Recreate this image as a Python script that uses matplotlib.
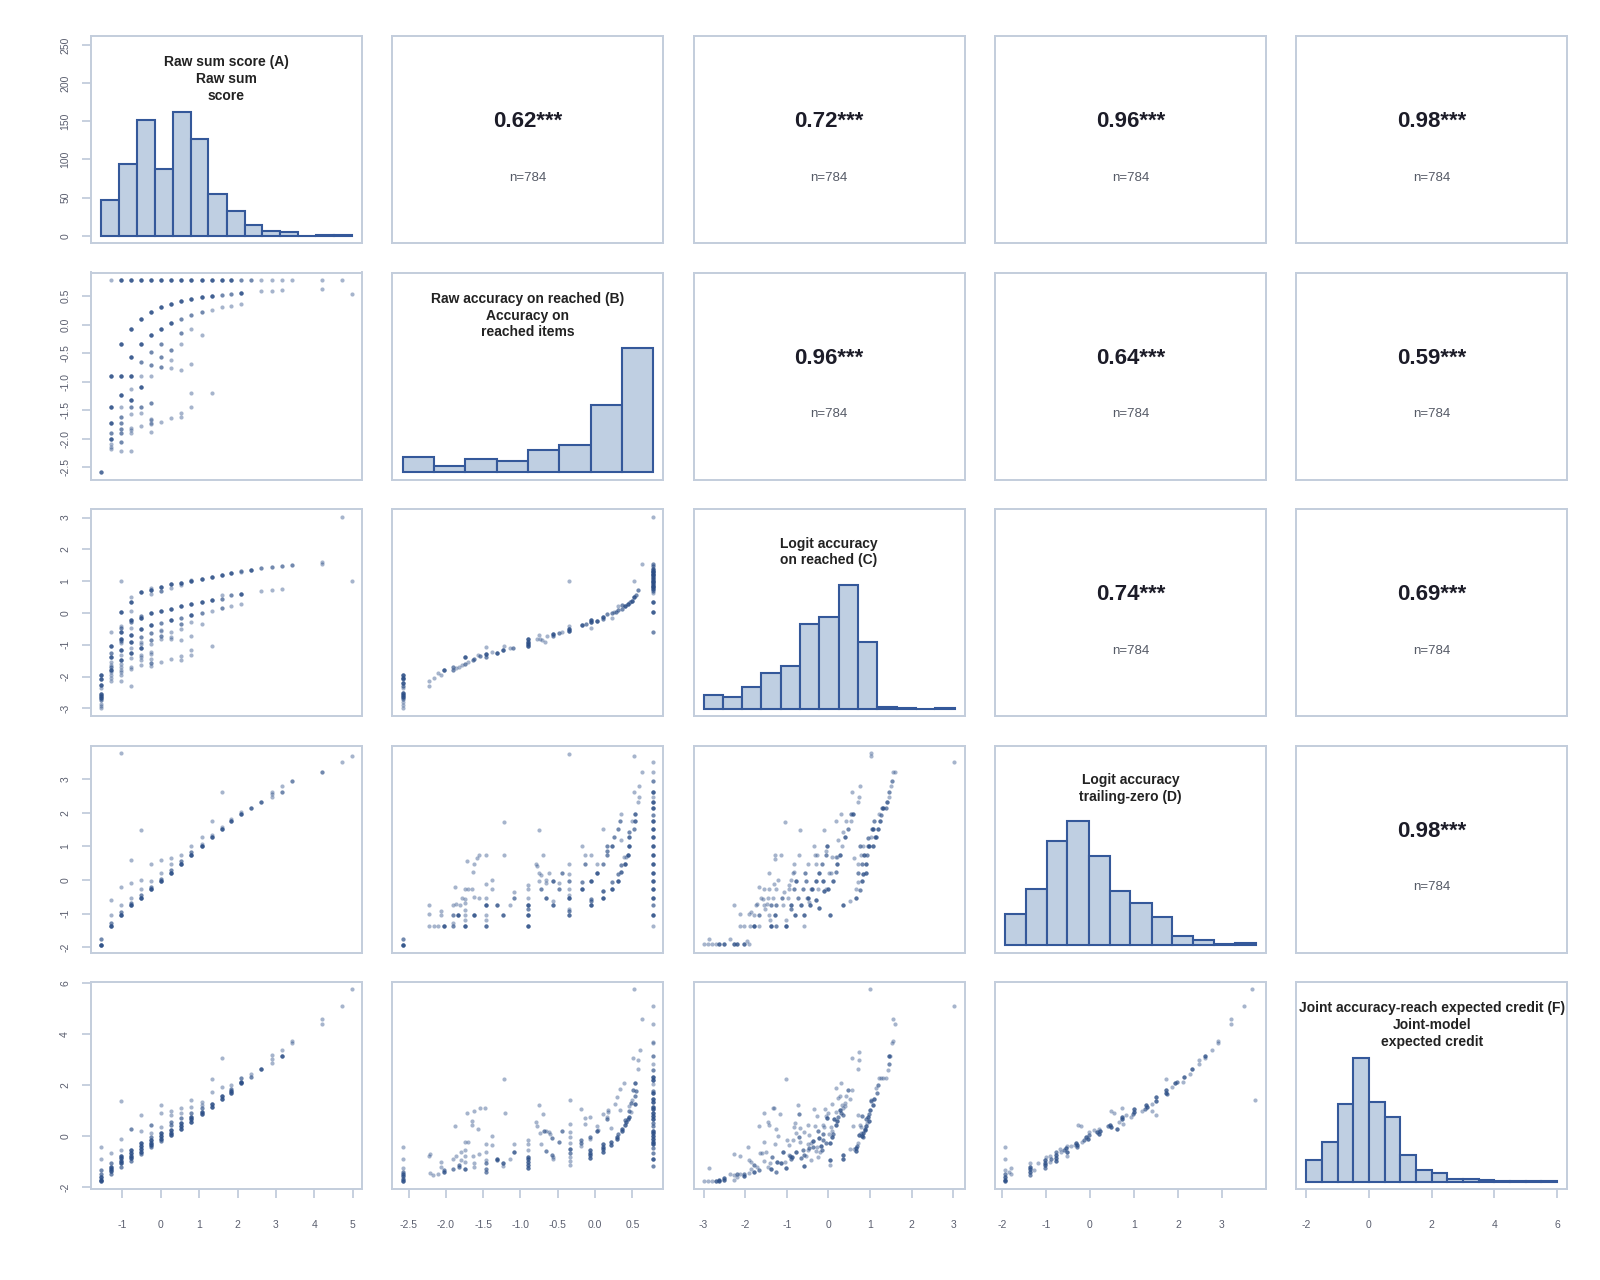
import numpy as np
import matplotlib.pyplot as plt

plt.rcParams['font.family'] = ['Liberation Sans', 'DejaVu Sans']
plt.rcParams['axes.unicode_minus'] = False

# ---- labels ---------------------------------------------------------------
titles = [
    "Raw sum score (A)\nRaw sum\nscore",
    "Raw accuracy on reached (B)\nAccuracy on\nreached items",
    "Logit accuracy\non reached (C)",
    "Logit accuracy\ntrailing-zero (D)",
    "Joint accuracy-reach expected credit (F)\nJoint-model\nexpected credit",
]
n_obs = 784

# correlations shown above the diagonal: (row, col) -> r
cors = {(0, 1): 0.62, (0, 2): 0.72, (0, 3): 0.96, (0, 4): 0.98,
        (1, 2): 0.96, (1, 3): 0.64, (1, 4): 0.59,
        (2, 3): 0.74, (2, 4): 0.69,
        (3, 4): 0.98}

# ---- histograms on the diagonal --------------------------------------------
hist_a_edges = [-1.56, -1.09, -0.63, -0.16, 0.31, 0.78, 1.24, 1.71, 2.18, 2.64, 3.11, 3.58, 4.04, 4.51, 4.98]
hist_a_counts = [47, 94, 152, 88, 162, 127, 55, 32, 14, 6, 5, 0, 1, 1]
hist_b_edges = [-2.58, -2.16, -1.74, -1.32, -0.90, -0.48, -0.06, 0.36, 0.78]
hist_b_counts = [42, 17, 36, 31, 61, 75, 184, 338]
hist_c_edges = [-3.00, -2.54, -2.07, -1.61, -1.14, -0.68, -0.22, 0.25, 0.71, 1.17, 1.64, 2.10, 2.57, 3.03]
hist_c_counts = [21, 18, 34, 57, 68, 134, 145, 196, 106, 3, 1, 0, 1]
hist_d_edges = [-1.93, -1.46, -0.98, -0.51, -0.03, 0.45, 0.92, 1.40, 1.87, 2.35, 2.82, 3.30, 3.77]
hist_d_counts = [44, 81, 150, 178, 128, 78, 60, 41, 13, 7, 1, 3]
hist_f_edges = [-2.0, -1.5, -1.0, -0.5, 0.0, 0.5, 1.0, 1.5, 2.0, 2.5, 3.0, 3.5, 4.0, 4.5, 5.0, 5.5, 6.0]
hist_f_counts = [37, 67, 132, 210, 135, 110, 45, 19, 15, 4, 4, 2, 1, 1, 1, 1]

# ---- scatter panels: (x, y, number of overlapping cases) -------------------
# panels against A (raw sum score): x value -> [(y, n), ...]
ba_cols = {
    -1.56: [(-2.58, 3)],
    -1.30: [(0.78, 1), (-0.90, 4), (-1.45, 4), (-1.73, 4), (-1.90, 2), (-2.01, 4), (-2.09, 1), (-2.14, 1), (-2.19, 1)],
    -1.04: [(0.78, 4), (-0.34, 4), (-0.90, 4), (-1.23, 4), (-1.45, 1), (-1.62, 2), (-1.73, 2), (-1.83, 2), (-1.90, 2), (-2.06, 2), (-2.22, 1)],
    -0.78: [(0.78, 4), (-0.07, 4), (-0.57, 4), (-0.90, 4), (-1.13, 1), (-1.32, 4), (-1.45, 2), (-1.57, 1), (-1.81, 1), (-1.85, 1), (-1.90, 1), (-2.22, 1)],
    -0.51: [(0.78, 4), (0.10, 4), (-0.34, 4), (-0.66, 2), (-0.90, 1), (-1.09, 4), (-1.45, 2), (-1.55, 1), (-1.78, 1)],
    -0.25: [(0.78, 4), (0.22, 4), (-0.18, 4), (-0.48, 2), (-0.71, 2), (-0.90, 1), (-1.38, 2), (-1.65, 1), (-1.68, 1), (-1.72, 1), (-1.75, 1), (-1.88, 1)],
    0.01: [(0.78, 4), (0.30, 4), (-0.07, 4), (-0.34, 2), (-0.57, 2), (-0.75, 2), (-1.70, 1)],
    0.27: [(0.78, 4), (0.36, 4), (0.03, 4), (-0.44, 2), (-0.62, 1), (-0.77, 1), (-1.64, 1)],
    0.53: [(0.78, 4), (0.41, 4), (0.10, 2), (-0.14, 2), (-0.34, 1), (-0.79, 1), (-1.55, 1), (-1.62, 1)],
    0.79: [(0.78, 4), (0.44, 4), (0.17, 2), (-0.07, 1), (-0.69, 1), (-1.20, 1), (-1.45, 1)],
    1.06: [(0.78, 4), (0.48, 4), (0.22, 2), (-0.18, 1)],
    1.32: [(0.78, 4), (0.50, 4), (0.26, 1), (-1.20, 1)],
    1.58: [(0.78, 4), (0.52, 2), (0.30, 1)],
    1.84: [(0.78, 4), (0.54, 2), (0.33, 1)],
    2.10: [(0.78, 2), (0.55, 4), (0.36, 1)],
    2.36: [(0.78, 2)],
    2.62: [(0.78, 1), (0.58, 1)],
    2.89: [(0.78, 1), (0.59, 1)],
    3.15: [(0.78, 1), (0.60, 1)],
    3.41: [(0.78, 1)],
    4.19: [(0.78, 1), (0.63, 1)],
    4.72: [(0.78, 1)],
    4.98: [(0.53, 1)],
}

ca_cols = {
    -1.56: [(-1.95, 4), (-2.07, 4), (-2.26, 4), (-2.37, 1), (-2.55, 4), (-2.60, 4), (-2.67, 4), (-2.75, 2), (-2.87, 1), (-2.94, 1), (-3.00, 1)],
    -1.30: [(-0.61, 1), (-1.03, 4), (-1.26, 2), (-1.39, 4), (-1.55, 1), (-1.64, 1), (-1.69, 2), (-1.78, 4), (-1.85, 1), (-1.95, 1), (-2.05, 1), (-2.13, 1)],
    -1.04: [(1.01, 1), (0.02, 4), (-0.40, 1), (-0.46, 2), (-0.59, 4), (-0.81, 4), (-0.88, 2), (-0.94, 1), (-1.15, 4), (-1.31, 1), (-1.47, 4), (-1.61, 1), (-1.70, 1), (-1.78, 1), (-1.85, 1), (-1.94, 1), (-2.13, 1)],
    -0.78: [(0.50, 1), (0.34, 4), (0.06, 1), (-0.23, 4), (-0.27, 2), (-0.46, 1), (-0.68, 4), (-0.90, 4), (-1.09, 1), (-1.25, 4), (-1.41, 1), (-1.69, 1), (-1.76, 1), (-2.30, 1)],
    -0.51: [(0.67, 4), (-0.08, 2), (-0.15, 4), (-0.50, 4), (-0.75, 2), (-0.91, 1), (-0.96, 1), (-1.10, 4), (-1.32, 1), (-1.40, 1), (-1.47, 1), (-1.63, 1)],
    -0.25: [(0.79, 1), (0.71, 4), (0.61, 1), (-0.01, 4), (-0.39, 4), (-0.64, 2), (-0.84, 2), (-0.98, 1), (-1.23, 1), (-1.28, 1), (-1.45, 1), (-1.56, 2), (-1.68, 1)],
    0.01: [(0.82, 4), (0.69, 2), (0.07, 4), (-0.30, 2), (-0.52, 1), (-0.57, 1), (-0.71, 2), (-0.83, 1), (-1.54, 1)],
    0.27: [(0.90, 4), (0.79, 1), (0.13, 4), (-0.23, 4), (-0.60, 1), (-0.75, 1), (-0.81, 1), (-1.46, 1)],
    0.53: [(0.93, 4), (0.89, 1), (0.21, 4), (-0.15, 2), (-0.35, 2), (-0.51, 1), (-0.84, 1), (-1.36, 1), (-1.47, 1)],
    0.79: [(1.04, 1), (0.99, 4), (0.27, 4), (-0.05, 4), (-0.28, 1), (-0.73, 1), (-1.16, 1), (-1.31, 1)],
    1.06: [(1.07, 4), (0.35, 4), (0.01, 2), (-0.35, 1)],
    1.32: [(1.13, 4), (0.42, 4), (0.06, 1), (-1.05, 1)],
    1.58: [(1.20, 4), (0.57, 1), (0.45, 2), (0.16, 2)],
    1.84: [(1.25, 4), (0.55, 2), (0.21, 1)],
    2.10: [(1.31, 2), (1.28, 1), (0.59, 4), (0.28, 1)],
    2.36: [(1.36, 4)],
    2.62: [(1.42, 2), (0.69, 1)],
    2.89: [(1.45, 2), (0.72, 1)],
    3.15: [(1.48, 2), (0.75, 1)],
    3.41: [(1.52, 2)],
    4.19: [(1.60, 1), (1.54, 1)],
    4.72: [(3.02, 1)],
    4.98: [(1.00, 1)],
}

da_cols = {
    -1.56: [(-1.93, 6), (-1.77, 2)],
    -1.30: [(-1.36, 5), (-1.27, 2), (-1.03, 1), (-0.60, 1)],
    -1.04: [(-1.03, 5), (-0.94, 2), (-0.76, 1), (-0.20, 1), (3.77, 1)],
    -0.78: [(-0.76, 5), (-0.70, 2), (-0.53, 1), (-0.10, 1), (0.60, 1)],
    -0.51: [(-0.53, 5), (-0.45, 2), (-0.28, 1), (0.00, 1), (1.50, 1)],
    -0.25: [(-0.28, 5), (-0.20, 2), (-0.04, 1), (0.47, 1)],
    0.01: [(-0.04, 5), (0.04, 2), (0.22, 1), (0.60, 1)],
    0.27: [(0.22, 5), (0.30, 2), (0.47, 1), (0.65, 1)],
    0.53: [(0.47, 5), (0.55, 2), (0.74, 1)],
    0.79: [(0.74, 5), (0.82, 2), (1.01, 1)],
    1.06: [(1.01, 5), (1.08, 1), (1.28, 1)],
    1.32: [(1.28, 4), (1.35, 1), (1.74, 1)],
    1.58: [(1.51, 4), (1.57, 1), (2.63, 1)],
    1.84: [(1.74, 4), (1.80, 1)],
    2.10: [(1.97, 4), (2.02, 1)],
    2.36: [(2.14, 3)],
    2.62: [(2.32, 3)],
    2.89: [(2.48, 1), (2.55, 1), (2.63, 1)],
    3.15: [(2.63, 2), (2.78, 1)],
    3.41: [(2.93, 2)],
    4.19: [(3.22, 2)],
    4.72: [(3.52, 1)],
    4.98: [(3.69, 1)],
}

fa_cols = {
    -1.56: [(-0.41, 1), (-0.90, 1), (-1.32, 2), (-1.48, 2), (-1.58, 4), (-1.69, 4), (-1.76, 4)],
    -1.30: [(-0.67, 1), (-1.03, 2), (-1.19, 4), (-1.29, 4), (-1.37, 4), (-1.48, 2)],
    -1.04: [(1.40, 1), (-0.12, 1), (-0.54, 1), (-0.75, 4), (-0.86, 4), (-0.95, 4), (-1.06, 4), (-1.19, 2)],
    -0.78: [(0.27, 2), (-0.54, 4), (-0.64, 4), (-0.75, 4), (-0.85, 4), (-0.95, 2)],
    -0.51: [(0.85, 1), (0.20, 1), (-0.27, 4), (-0.38, 4), (-0.48, 4), (-0.60, 4), (-0.69, 2)],
    -0.25: [(0.43, 2), (0.12, 1), (-0.01, 2), (-0.14, 4), (-0.25, 4), (-0.35, 4), (-0.43, 2)],
    0.01: [(1.23, 1), (0.93, 1), (0.38, 1), (0.12, 4), (0.01, 4), (-0.09, 4), (-0.20, 2)],
    0.27: [(1.01, 1), (0.82, 1), (0.58, 2), (0.44, 2), (0.25, 4), (0.14, 4), (0.04, 4)],
    0.53: [(1.11, 1), (0.90, 1), (0.71, 2), (0.51, 4), (0.41, 4), (0.30, 4)],
    0.79: [(1.41, 1), (1.14, 1), (0.93, 2), (0.77, 4), (0.67, 4), (0.56, 4)],
    1.06: [(1.36, 1), (1.23, 1), (1.11, 2), (0.97, 4), (0.88, 4)],
    1.32: [(2.24, 1), (1.75, 1), (1.25, 4), (1.16, 4)],
    1.58: [(3.06, 1), (1.95, 1), (1.56, 4), (1.45, 4)],
    1.84: [(2.01, 1), (1.87, 2), (1.79, 4), (1.69, 4)],
    2.10: [(2.29, 2), (2.14, 4), (2.10, 4)],
    2.36: [(2.43, 1), (2.34, 2)],
    2.62: [(2.63, 4)],
    2.89: [(3.18, 1), (3.02, 1), (2.86, 1)],
    3.15: [(3.39, 1), (3.15, 4)],
    3.41: [(3.75, 1), (3.67, 1)],
    4.19: [(4.59, 1), (4.41, 1)],
    4.72: [(5.11, 1)],
    4.98: [(5.76, 1)],
}

# C against B
cb_pts = [
    (-2.58, -1.95, 4), (-2.58, -2.03, 4), (-2.58, -2.09, 2), (-2.58, -2.21, 4), (-2.58, -2.29, 2), (-2.58, -2.37, 1),
    (-2.58, -2.53, 4), (-2.58, -2.58, 4), (-2.58, -2.64, 4), (-2.58, -2.71, 2), (-2.58, -2.81, 1), (-2.58, -2.90, 1), (-2.58, -3.00, 1),
    (-2.22, -2.13, 1), (-2.22, -2.30, 1), (-2.16, -2.04, 1), (-2.10, -1.90, 1), (-2.07, -1.96, 1), (-2.02, -1.78, 4),
    (-1.91, -1.70, 2), (-1.91, -1.78, 2), (-1.86, -1.72, 1), (-1.82, -1.70, 1), (-1.79, -1.64, 1), (-1.74, -1.40, 4),
    (-1.74, -1.59, 2), (-1.70, -1.55, 1), (-1.63, -1.47, 2), (-1.62, -1.44, 2), (-1.57, -1.31, 1), (-1.54, -1.36, 2),
    (-1.46, -1.28, 4), (-1.46, -1.37, 2), (-1.46, -1.06, 1), (-1.38, -1.24, 1), (-1.32, -1.25, 4), (-1.24, -1.15, 4),
    (-1.22, -1.05, 1), (-1.14, -1.10, 1), (-1.10, -1.10, 2), (-0.90, -0.82, 4), (-0.90, -0.90, 4), (-0.90, -0.97, 4),
    (-0.90, -1.03, 4), (-0.78, -0.83, 1), (-0.75, -0.68, 1), (-0.74, -0.82, 1), (-0.71, -0.85, 1), (-0.67, -0.90, 1),
    (-0.65, -0.73, 1), (-0.57, -0.66, 4), (-0.57, -0.71, 2), (-0.49, -0.63, 2), (-0.45, -0.61, 1), (-0.35, -0.40, 1),
    (-0.35, -0.50, 4), (-0.35, -0.58, 4), (-0.35, 1.02, 1), (-0.18, -0.38, 4), (-0.12, -0.34, 2), (-0.06, -0.22, 4),
    (-0.06, -0.29, 4), (-0.06, -0.46, 1), (0.02, -0.24, 4), (0.10, -0.14, 4), (0.11, -0.19, 2), (0.16, -0.03, 2),
    (0.22, -0.15, 1), (0.22, 0.00, 2), (0.25, 0.02, 1), (0.28, 0.04, 2), (0.30, 0.09, 2), (0.31, 0.21, 1),
    (0.36, 0.14, 2), (0.36, 0.25, 2), (0.40, 0.23, 4), (0.44, 0.27, 4), (0.47, 0.33, 2), (0.50, 0.39, 4),
    (0.52, 0.49, 4), (0.55, 0.57, 2), (0.58, 0.72, 2), (0.52, 1.01, 1), (0.63, 1.54, 1),
    (0.78, 3.02, 1), (0.78, 1.54, 2), (0.78, 1.49, 2), (0.78, 1.39, 4), (0.78, 1.33, 4), (0.78, 1.28, 4), (0.78, 1.23, 4),
    (0.78, 1.18, 4), (0.78, 1.12, 4), (0.78, 1.07, 4), (0.78, 1.02, 4), (0.78, 0.97, 4), (0.78, 0.91, 4), (0.78, 0.86, 4),
    (0.78, 0.81, 4), (0.78, 0.76, 4), (0.78, 0.70, 2), (0.78, 0.63, 1), (0.78, 0.35, 4), (0.78, 0.02, 4), (0.78, -0.61, 2),
]

# D against B
db_pts = [
    (-2.58, -1.77, 2), (-2.58, -1.93, 5),
    (-2.23, -0.76, 1), (-2.23, -1.02, 1), (-2.22, -1.36, 1), (-2.16, -1.36, 1), (-2.10, -1.36, 1), (-2.07, -0.92, 1),
    (-2.07, -1.03, 1), (-2.02, -1.36, 4), (-1.91, -0.76, 1), (-1.91, -1.03, 2), (-1.91, -1.27, 1), (-1.91, -1.36, 2),
    (-1.88, -0.20, 1), (-1.86, -0.72, 1), (-1.84, -1.03, 4), (-1.81, -0.76, 1), (-1.79, -0.53, 1), (-1.74, -0.28, 1),
    (-1.74, -0.57, 1), (-1.74, -0.70, 1), (-1.74, -0.89, 1), (-1.74, -1.03, 1), (-1.74, -1.18, 1), (-1.74, -1.36, 4),
    (-1.71, 0.57, 1), (-1.70, -0.28, 1), (-1.65, -0.28, 1), (-1.64, 0.23, 1), (-1.62, 0.48, 1), (-1.62, -0.51, 1),
    (-1.62, -1.03, 4), (-1.58, 0.64, 1), (-1.55, 0.74, 1), (-1.55, -0.53, 1), (-1.46, 0.75, 1), (-1.46, -0.13, 1),
    (-1.46, -0.53, 1), (-1.46, -0.76, 4), (-1.46, -1.03, 1), (-1.46, -1.19, 1), (-1.46, -1.36, 3), (-1.38, 0.00, 1),
    (-1.38, -0.28, 1), (-1.32, -0.76, 3), (-1.24, -1.03, 3), (-1.22, 1.73, 1), (-1.22, 0.75, 1), (-1.14, -0.76, 1),
    (-1.09, -0.37, 1), (-1.09, -0.53, 2), (-0.90, -0.15, 1), (-0.90, -0.28, 1), (-0.90, -0.53, 1), (-0.90, -0.76, 4),
    (-0.90, -0.88, 2), (-0.90, -1.03, 4), (-0.90, -1.36, 4), (-0.79, 0.47, 1), (-0.78, 0.42, 1), (-0.75, 1.49, 1),
    (-0.75, 0.21, 1), (-0.75, -0.03, 1), (-0.72, 0.15, 1), (-0.72, -0.28, 2), (-0.70, 0.74, 1), (-0.66, 0.00, 1),
    (-0.66, -0.10, 1), (-0.66, -0.53, 3), (-0.62, 0.22, 1), (-0.57, -0.03, 3), (-0.57, -0.62, 1), (-0.57, -0.76, 3),
    (-0.49, -0.08, 1), (-0.49, -0.28, 2), (-0.45, 0.22, 2), (-0.35, 3.76, 1), (-0.35, 0.47, 1), (-0.35, 0.18, 1),
    (-0.35, -0.04, 2), (-0.35, -0.28, 1), (-0.35, -0.45, 1), (-0.35, -0.53, 4), (-0.35, -0.88, 1), (-0.35, -0.93, 2),
    (-0.35, -1.03, 3), (-0.18, 1.01, 1), (-0.18, -0.07, 2), (-0.18, -0.28, 4), (-0.14, 0.74, 1), (-0.14, 0.47, 2),
    (-0.06, 0.74, 1), (-0.06, -0.03, 4), (-0.06, -0.57, 2), (-0.06, -0.64, 2), (-0.06, -0.76, 4), (0.02, 0.46, 1),
    (0.02, 0.22, 4), (0.10, 1.51, 1), (0.10, 0.47, 2), (0.10, -0.34, 3), (0.10, -0.53, 4), (0.16, 1.01, 2),
    (0.16, 0.87, 2), (0.16, 0.75, 2), (0.22, 1.01, 3), (0.22, -0.05, 2), (0.22, -0.28, 4), (0.25, 1.28, 2),
    (0.30, 1.52, 2), (0.30, 0.18, 2), (0.30, -0.03, 4), (0.33, 1.74, 2), (0.35, 1.97, 1), (0.35, 1.19, 1),
    (0.35, 0.43, 2), (0.35, 0.23, 3), (0.38, 0.67, 1), (0.40, 0.47, 4), (0.41, 0.67, 1), (0.44, 0.75, 4),
    (0.46, 1.42, 2), (0.46, 1.28, 3), (0.46, 1.01, 4), (0.50, 1.74, 1), (0.52, 3.69, 1), (0.52, 2.61, 1),
    (0.52, 1.51, 2), (0.53, 1.74, 3), (0.54, 1.97, 3), (0.58, 2.31, 1), (0.59, 2.48, 1), (0.59, 2.78, 1), (0.63, 3.22, 1),
    (0.78, 3.52, 1), (0.78, 3.22, 1), (0.78, 2.93, 2), (0.78, 2.63, 4), (0.78, 2.48, 1), (0.78, 2.32, 4), (0.78, 2.14, 4),
    (0.78, 1.94, 2), (0.78, 1.74, 4), (0.78, 1.51, 4), (0.78, 1.28, 4), (0.78, 1.01, 4), (0.78, 0.75, 4), (0.78, 0.47, 4),
    (0.78, 0.22, 4), (0.78, -0.04, 4), (0.78, -0.28, 4), (0.78, -0.53, 4), (0.78, -0.76, 2), (0.78, -1.03, 4), (0.78, -1.36, 1),
]

# D against C
dc_pts = [
    (-3.00, -1.92, 1), (-2.90, -1.92, 1), (-2.86, -1.77, 1), (-2.81, -1.92, 1), (-2.71, -1.92, 1), (-2.62, -1.92, 3),
    (-2.52, -1.92, 3), (-2.37, -1.77, 1), (-2.26, -1.92, 3), (-2.19, -1.92, 3), (-2.04, -1.92, 3), (-1.96, -1.82, 1),
    (-1.92, -1.92, 1), (-2.27, -0.76, 1), (-2.12, -1.02, 1), (-2.12, -1.36, 1), (-2.02, -1.36, 1), (-1.92, -1.02, 1),
    (-1.88, -1.36, 1), (-1.87, -0.94, 1), (-1.78, -1.36, 4), (-1.78, -1.03, 1), (-1.74, -0.76, 1), (-1.72, -0.71, 1),
    (-1.68, -1.03, 2), (-1.66, -1.36, 1), (-1.66, -0.20, 1), (-1.62, -0.53, 1), (-1.58, -0.57, 1), (-1.55, -0.76, 1),
    (-1.55, -0.28, 1), (-1.52, -0.88, 1), (-1.47, -0.72, 1), (-1.45, -0.53, 1), (-1.44, 0.21, 1), (-1.44, -1.03, 1),
    (-1.42, -0.28, 1), (-1.40, -1.18, 1), (-1.37, -0.76, 2), (-1.37, -1.36, 4), (-1.34, -0.53, 1), (-1.31, -0.13, 1),
    (-1.29, 0.75, 1), (-1.29, 0.62, 1), (-1.28, -1.03, 3), (-1.26, -0.28, 1), (-1.25, -0.76, 2), (-1.25, -1.36, 2),
    (-1.21, 0.00, 1), (-1.15, 0.75, 1), (-1.12, -0.53, 2), (-1.09, -0.76, 1), (-1.07, -0.37, 1), (-1.04, 1.73, 1),
    (-1.02, -1.19, 1), (-1.01, -1.36, 4), (-0.98, -0.53, 1), (-0.96, -0.15, 1), (-0.94, -0.28, 1), (-0.90, -0.76, 3),
    (-0.90, -0.86, 2), (-0.89, 0.00, 1), (-0.86, 0.21, 1), (-0.83, 0.23, 1), (-0.82, -0.28, 2), (-0.82, 0.47, 1),
    (-0.80, -1.03, 3), (-0.77, -0.03, 3), (-0.74, -0.53, 2), (-0.72, 0.75, 1), (-0.69, 1.49, 1), (-0.67, -0.76, 3),
    (-0.62, -0.28, 2), (-0.59, -1.36, 1), (-0.58, -1.03, 3), (-0.56, 0.21, 2), (-0.55, -0.03, 2), (-0.51, -0.53, 1),
    (-0.50, 0.47, 1), (-0.49, -0.53, 3), (-0.47, -0.66, 1), (-0.45, -0.76, 3), (-0.43, -0.28, 1), (-0.39, -0.28, 3),
    (-0.34, 1.01, 1), (-0.32, 0.75, 1), (-0.31, 0.47, 1), (-0.29, -0.03, 3), (-0.29, -0.59, 3), (-0.27, 0.75, 1),
    (-0.24, -0.28, 1), (-0.23, 0.21, 3), (-0.22, -0.83, 3), (-0.15, 0.47, 2), (-0.13, -0.03, 3), (-0.11, -0.33, 3),
    (-0.10, 1.49, 1), (-0.07, -0.28, 1), (-0.05, 0.75, 2), (-0.05, 0.87, 1), (-0.04, 1.00, 3), (-0.01, -0.28, 3),
    (0.01, 0.21, 1), (0.04, -1.03, 3), (0.05, 0.21, 1), (0.08, 0.67, 1), (0.11, -0.03, 3), (0.17, 0.67, 1),
    (0.17, 1.74, 1), (0.19, 0.23, 2), (0.20, 0.67, 1), (0.21, 0.47, 3), (0.24, 1.20, 1), (0.27, 0.75, 3),
    (0.29, 1.97, 1), (0.32, 1.01, 1), (0.36, 1.42, 1), (0.36, -0.76, 3), (0.40, 1.29, 3), (0.43, 1.74, 1),
    (0.47, 1.51, 2), (0.52, -0.62, 1), (0.55, 1.97, 2), (0.55, 1.74, 1), (0.57, 2.62, 1), (0.59, 1.97, 3),
    (0.62, 0.66, 1), (0.67, -0.53, 3), (0.67, -0.28, 1), (0.71, -0.05, 1), (0.71, 0.22, 2), (0.71, 0.47, 1),
    (0.71, 2.32, 1), (0.73, 2.48, 1), (0.75, 2.78, 1), (0.75, 1.01, 2), (0.76, -0.29, 2), (0.79, 0.75, 1),
    (0.81, -0.03, 3), (0.81, 0.47, 2), (0.83, 0.18, 3), (0.84, 1.01, 1), (0.86, 0.75, 3), (0.91, 0.47, 3),
    (0.91, 0.22, 3), (0.92, 0.75, 2), (0.94, 1.01, 2), (0.95, 1.25, 2), (0.98, 1.01, 3), (1.01, 3.77, 1),
    (1.01, 3.69, 1), (1.02, 1.28, 1), (1.05, 1.51, 2), (1.07, 1.01, 3), (1.08, 1.51, 3), (1.10, 1.74, 2),
    (1.11, 1.28, 2), (1.14, 1.28, 3), (1.19, 1.51, 3), (1.22, 1.97, 1), (1.24, 1.74, 3), (1.26, 1.93, 2),
    (1.29, 2.13, 2), (1.32, 2.13, 3), (1.37, 2.13, 2), (1.41, 2.32, 3), (1.45, 2.48, 1), (1.46, 2.62, 2),
    (1.49, 2.78, 1), (1.53, 2.93, 2), (1.56, 3.22, 1), (1.61, 3.22, 1), (3.02, 3.52, 1),
]

# F against B
fb_pts = [
    (-2.58, -0.41, 1), (-2.58, -0.90, 1), (-2.58, -1.25, 1), (-2.58, -1.39, 2), (-2.58, -1.48, 3), (-2.58, -1.56, 3),
    (-2.58, -1.65, 3), (-2.58, -1.74, 4),
    (-2.22, -0.75, 1), (-2.21, -0.68, 1), (-2.21, -1.45, 1), (-2.17, -1.52, 1), (-2.10, -1.46, 1), (-2.06, -0.99, 1),
    (-2.06, -1.19, 1), (-2.03, -1.40, 3), (-2.03, -1.32, 2), (-1.91, -1.29, 2), (-1.91, -0.89, 1), (-1.88, 0.41, 1),
    (-1.86, -0.77, 1), (-1.83, -1.20, 2), (-1.83, -1.14, 2), (-1.80, -0.60, 1), (-1.80, -0.93, 1), (-1.74, -0.55, 1),
    (-1.74, -0.21, 1), (-1.74, -0.75, 1), (-1.74, -0.99, 1), (-1.74, -1.27, 3), (-1.71, 0.93, 1), (-1.70, -0.24, 1),
    (-1.65, 0.43, 1), (-1.65, 0.60, 1), (-1.64, -0.75, 1), (-1.62, -1.06, 1), (-1.62, -1.19, 1), (-1.62, 1.01, 1),
    (-1.57, 0.29, 1), (-1.55, -0.68, 1), (-1.54, 1.12, 1), (-1.47, 1.12, 1), (-1.46, -0.30, 1), (-1.46, -0.60, 1),
    (-1.46, -0.93, 1), (-1.46, -1.06, 2), (-1.46, -1.28, 2), (-1.46, -1.40, 2), (-1.38, 0.00, 1), (-1.38, -0.35, 1),
    (-1.32, -0.88, 3), (-1.32, -0.93, 2), (-1.22, 2.24, 1), (-1.21, 0.90, 1), (-1.24, -1.03, 3), (-1.24, -1.15, 1),
    (-1.14, -0.90, 1), (-1.09, -0.31, 1), (-1.09, -0.61, 3), (-0.90, -0.14, 1), (-0.90, -0.30, 1), (-0.90, -0.54, 1),
    (-0.90, -0.80, 3), (-0.90, -0.90, 3), (-0.90, -1.01, 3), (-0.90, -1.11, 3), (-0.90, -1.22, 3), (-0.79, 0.55, 1),
    (-0.78, 0.41, 1), (-0.75, 1.22, 1), (-0.74, 0.14, 1), (-0.72, -0.30, 1), (-0.70, 0.88, 1), (-0.69, 0.20, 2),
    (-0.66, -0.59, 2), (-0.66, 0.20, 1), (-0.62, 0.18, 1), (-0.61, 0.09, 1), (-0.58, -0.05, 2), (-0.58, -0.73, 2),
    (-0.57, -0.90, 1), (-0.57, -0.80, 1), (-0.49, -0.24, 2), (-0.44, 0.22, 2), (-0.34, 1.41, 1), (-0.34, 0.50, 1),
    (-0.34, 0.17, 1), (-0.34, -0.01, 1), (-0.34, -0.25, 1), (-0.34, -0.50, 3), (-0.34, -0.64, 2), (-0.34, -0.80, 1),
    (-0.34, -0.95, 1), (-0.34, -1.12, 1), (-0.19, 1.07, 1), (-0.19, -0.14, 2), (-0.19, -0.27, 2), (-0.19, -0.37, 1),
    (-0.14, 0.50, 1), (-0.14, 0.73, 1), (-0.07, -0.04, 2), (-0.07, -0.54, 3), (-0.07, -0.64, 3), (-0.07, -0.73, 3),
    (-0.07, -0.85, 3), (-0.07, 0.77, 1), (-0.07, -0.10, 1), (0.02, 0.41, 1), (0.03, 0.20, 3), (0.04, 0.25, 1),
    (0.10, 0.86, 1), (0.10, -0.30, 3), (0.10, -0.41, 3), (0.10, -0.51, 3), (0.10, -0.61, 3), (0.16, 0.68, 2),
    (0.16, 0.77, 1), (0.17, 0.97, 1), (0.17, 1.03, 1), (0.21, 0.34, 1), (0.21, -0.22, 3), (0.21, -0.34, 3),
    (0.26, 1.25, 1), (0.29, 1.54, 1), (0.29, -0.01, 3), (0.29, -0.12, 3), (0.30, 0.09, 2), (0.33, 1.84, 1),
    (0.33, 1.03, 1), (0.36, 0.20, 3), (0.36, 0.27, 3), (0.38, 2.10, 1), (0.40, 0.64, 2), (0.40, 0.44, 3),
    (0.42, 0.55, 3), (0.44, 0.69, 3), (0.45, 0.76, 3), (0.46, 1.19, 1), (0.46, 1.01, 2), (0.48, 1.29, 2),
    (0.48, 0.94, 1), (0.49, 1.42, 1), (0.51, 1.82, 2), (0.51, 3.05, 1), (0.53, 1.25, 3), (0.54, 2.10, 3),
    (0.54, 1.56, 2), (0.55, 1.79, 2), (0.58, 2.99, 1), (0.58, 2.64, 1), (0.60, 3.39, 1), (0.52, 5.76, 1), (0.63, 4.59, 1),
    (0.78, 5.11, 1), (0.78, 4.39, 1), (0.78, 3.71, 1), (0.78, 3.65, 1), (0.78, 3.15, 2), (0.78, 2.84, 1), (0.78, 2.60, 2),
    (0.78, 2.31, 4), (0.78, 2.21, 4), (0.78, 2.05, 1), (0.78, 1.79, 2), (0.78, 1.69, 4), (0.78, 1.45, 4), (0.78, 1.36, 4),
    (0.78, 1.16, 4), (0.78, 1.06, 4), (0.78, 0.93, 4), (0.78, 0.80, 4), (0.78, 0.67, 4), (0.78, 0.51, 2), (0.78, 0.41, 2),
    (0.78, 0.20, 4), (0.78, 0.12, 4), (0.78, 0.01, 4), (0.78, -0.10, 4), (0.78, -0.21, 4), (0.78, -0.30, 4),
    (0.78, -0.47, 2), (0.78, -0.67, 2), (0.78, -0.90, 4), (0.78, -1.16, 2),
]

# F against C
fc_pts = [
    (-3.00, -1.74, 1), (-2.90, -1.74, 1), (-2.81, -1.73, 1), (-2.86, -1.24, 1), (-2.71, -1.75, 3), (-2.62, -1.70, 3),
    (-2.62, -1.74, 3), (-2.52, -1.69, 3), (-2.52, -1.63, 3), (-2.36, -1.48, 1), (-2.28, -0.68, 1), (-2.27, -1.53, 1),
    (-2.27, -1.70, 1), (-2.19, -1.48, 2), (-2.19, -1.58, 1), (-2.12, -0.77, 1), (-2.12, -1.48, 1), (-2.04, -1.54, 3),
    (-2.04, -1.48, 2), (-1.93, -0.41, 1), (-1.92, -0.93, 1), (-1.92, -1.45, 1), (-1.87, -0.99, 1), (-1.87, -1.29, 1),
    (-1.79, -1.14, 2), (-1.79, -1.40, 3), (-1.71, -1.19, 1), (-1.66, 0.42, 1), (-1.66, -1.32, 2), (-1.64, -0.67, 1),
    (-1.60, -0.64, 1), (-1.56, -0.22, 1), (-1.55, -0.97, 1), (-1.54, 0.90, 1), (-1.49, -0.60, 1), (-1.45, 0.58, 1),
    (-1.44, 0.44, 1), (-1.41, -1.06, 1), (-1.45, -1.19, 1), (-1.37, -1.28, 3), (-1.36, -0.80, 2), (-1.34, 1.10, 1),
    (-1.31, 1.10, 1), (-1.29, -0.30, 1), (-1.27, 0.27, 1), (-1.25, -1.40, 2), (-1.23, -1.01, 3), (-1.21, 0.01, 1),
    (-1.17, 0.88, 1), (-1.13, -1.03, 3), (-1.09, -0.61, 3), (-1.05, -0.99, 1), (-1.02, 2.24, 1), (-1.01, -1.22, 3),
    (-0.99, -0.14, 1), (-0.96, -0.34, 1), (-0.94, -0.71, 1), (-0.93, -0.77, 2), (-0.89, -0.90, 2), (-0.88, -0.82, 3),
    (-0.85, -0.14, 1), (-0.82, 0.38, 1), (-0.81, 0.54, 1), (-0.77, 0.12, 1), (-0.77, -0.61, 3), (-0.74, 1.23, 1),
    (-0.71, 0.88, 2), (-0.70, -0.04, 2), (-0.69, 0.31, 1), (-0.69, -0.24, 1), (-0.66, -0.86, 2), (-0.62, -0.54, 2),
    (-0.59, -1.15, 3), (-0.59, -0.71, 2), (-0.58, 0.16, 1), (-0.53, -0.77, 1), (-0.49, -0.30, 1), (-0.49, -0.54, 1),
    (-0.48, 0.44, 1), (-0.47, 0.04, 1), (-0.46, -0.44, 2), (-0.41, -0.93, 1), (-0.41, -0.27, 1), (-0.37, -0.41, 2),
    (-0.37, -0.20, 3), (-0.34, 1.07, 1), (-0.33, 0.39, 1), (-0.29, -0.56, 1), (-0.27, 0.80, 1), (-0.27, -0.43, 1),
    (-0.25, -0.80, 1), (-0.25, 0.21, 2), (-0.23, -0.05, 3), (-0.21, -0.60, 1), (-0.19, -0.38, 3), (-0.15, -0.54, 2),
    (-0.13, 0.44, 1), (-0.13, 0.09, 2), (-0.13, -0.14, 2), (-0.11, 0.38, 1), (-0.08, 1.06, 1), (-0.05, 0.81, 1),
    (-0.05, -0.27, 2), (-0.04, 0.71, 3), (-0.02, 0.90, 1), (0.01, 0.09, 1), (0.03, -0.93, 3), (0.03, -1.12, 1),
    (0.04, -0.27, 3), (0.06, 0.38, 1), (0.08, -0.04, 3), (0.09, 0.22, 1), (0.09, 1.25, 1), (0.12, 0.09, 2),
    (0.13, 0.68, 3), (0.17, 0.95, 1), (0.17, 0.44, 3), (0.19, 1.90, 1), (0.20, 0.61, 3), (0.22, 0.77, 2),
    (0.24, 1.50, 1), (0.27, 1.03, 3), (0.27, 1.58, 1), (0.30, 0.90, 2), (0.30, 2.10, 1), (0.33, 1.23, 1),
    (0.35, -0.71, 3), (0.35, -0.90, 3), (0.35, 1.12, 1), (0.36, 0.84, 2), (0.39, 1.29, 1), (0.39, 1.19, 1),
    (0.43, 1.58, 1), (0.47, 1.82, 2), (0.51, -0.51, 1), (0.52, 1.46, 1), (0.56, 1.82, 1), (0.57, 3.06, 1),
    (0.59, 0.42, 1), (0.61, -0.51, 1), (0.65, -0.44, 3), (0.67, -0.59, 3), (0.68, -0.37, 2), (0.70, -0.27, 1),
    (0.73, 3.32, 1), (0.73, 0.05, 3), (0.71, 2.65, 1), (0.72, 0.84, 1), (0.74, 2.99, 1), (0.76, 0.44, 1),
    (0.78, 0.14, 1), (0.79, 0.38, 1), (0.81, 0.81, 2), (0.81, 0.01, 3), (0.83, -0.04, 2), (0.84, 0.12, 3),
    (0.87, 0.25, 3), (0.88, 0.27, 2), (0.91, 0.42, 3), (0.91, 0.68, 2), (0.92, 0.51, 1), (0.94, 0.77, 3),
    (0.97, 0.61, 3), (0.98, 0.88, 2), (1.00, 1.03, 3), (1.02, 1.39, 2), (1.03, 1.42, 1), (1.06, 1.23, 3),
    (1.10, 1.46, 3), (1.14, 1.88, 1), (1.17, 1.69, 2), (1.18, 2.01, 2), (1.22, 2.27, 1), (1.26, 2.27, 1),
    (1.32, 2.27, 1), (1.37, 2.27, 1), (1.42, 2.60, 1), (1.45, 2.84, 2), (1.46, 3.15, 3), (1.48, 3.15, 1),
    (1.53, 3.67, 1), (1.54, 3.74, 1), (1.56, 4.59, 1), (1.61, 4.39, 1), (1.00, 5.76, 1), (3.01, 5.11, 1),
]

# F against D
fd_pts = [
    (-1.93, -0.41, 1), (-1.93, -0.90, 1), (-1.93, -1.32, 1), (-1.93, -1.48, 2), (-1.93, -1.58, 3), (-1.93, -1.69, 3),
    (-1.93, -1.74, 3), (-1.79, -1.24, 1), (-1.79, -1.48, 1), (-1.83, -1.41, 1), (-1.36, -1.06, 1), (-1.36, -1.19, 3),
    (-1.36, -1.29, 3), (-1.36, -1.40, 3), (-1.36, -1.50, 2), (-1.28, -1.32, 1), (-1.18, -1.06, 1), (-1.03, -0.93, 3),
    (-1.03, -1.03, 3), (-1.03, -1.14, 3), (-1.03, -1.23, 2), (-1.00, -0.80, 1), (-0.91, -0.77, 1), (-0.91, -0.99, 1),
    (-0.88, -0.90, 2), (-0.77, -0.60, 2), (-0.77, -0.73, 3), (-0.77, -0.86, 3), (-0.77, -0.95, 3), (-0.69, -0.50, 1),
    (-0.66, -0.60, 1), (-0.60, -0.54, 2), (-0.54, -0.47, 3), (-0.53, -0.60, 3), (-0.53, -0.38, 1), (-0.51, -0.75, 1),
    (-0.43, -0.38, 1), (-0.35, -0.34, 1), (-0.32, -0.25, 3), (-0.30, -0.33, 3), (-0.28, 0.43, 1), (-0.30, -0.43, 2),
    (-0.20, 0.41, 1), (-0.17, -0.21, 1), (-0.13, -0.14, 2), (-0.08, -0.01, 3), (-0.05, -0.10, 3), (-0.03, 0.18, 1),
    (-0.02, 0.05, 2), (0.10, 0.25, 1), (0.17, 0.16, 3), (0.20, 0.09, 3), (0.23, 0.20, 3), (0.21, 0.27, 1),
    (0.40, 0.41, 2), (0.46, 0.44, 3), (0.47, 0.38, 3), (0.47, 1.01, 1), (0.55, 0.93, 1), (0.62, 0.27, 3),
    (0.66, 0.58, 1), (0.72, 0.67, 3), (0.74, 0.77, 3), (0.76, 0.48, 1), (0.74, 1.12, 1), (0.81, 0.85, 1),
    (0.94, 0.77, 1), (0.98, 0.88, 2), (1.00, 0.97, 3), (1.00, 1.08, 3), (1.19, 1.01, 1), (1.25, 1.06, 2),
    (1.27, 1.23, 3), (1.30, 1.14, 3), (1.42, 1.25, 1), (1.51, 0.84, 1), (1.51, 1.39, 3), (1.51, 1.53, 3),
    (1.42, 1.01, 1), (1.73, 2.24, 1), (1.73, 1.82, 3), (1.73, 1.71, 3), (1.76, 1.66, 2), (1.87, 1.92, 1),
    (1.94, 2.08, 3), (1.98, 2.13, 2), (2.11, 2.13, 1), (2.13, 2.31, 3), (2.31, 2.63, 3), (2.28, 2.43, 1),
    (2.47, 2.84, 1), (2.47, 2.99, 1), (2.62, 3.15, 3), (2.61, 3.06, 1), (2.77, 3.39, 1), (2.91, 3.67, 1),
    (2.92, 3.75, 1), (3.21, 4.59, 1), (3.21, 4.41, 1), (3.51, 5.11, 1), (3.69, 5.76, 1), (3.76, 1.41, 1),
]

# ---- axis ranges and ticks per variable -----------------------------------
lims = [(-1.82, 5.24), (-2.717, 0.913), (-3.24, 3.27), (-2.16, 4.0), (-2.06, 6.04)]
ticks = [[-1, 0, 1, 2, 3, 4, 5],
         [-2.5, -2.0, -1.5, -1.0, -0.5, 0.0, 0.5],
         [-3, -2, -1, 0, 1, 2, 3],
         [-2, -1, 0, 1, 2, 3],
         [-2, 0, 2, 4, 6]]
hist_count_ticks = [0, 50, 100, 150, 200, 250]
f_hist_xlim = (-2.32, 6.32)

FILL = '#bfcfe2'
EDGE = '#34589a'
DOT = '#2b4e86'
FRAME = '#c3cddc'
TICKTXT = '#5a5e6e'


def flatten(cols):
    return [(x, y, n) for x, ys in cols.items() for y, n in ys]


scatter = {
    (1, 0): flatten(ba_cols),
    (2, 0): flatten(ca_cols), (2, 1): cb_pts,
    (3, 0): flatten(da_cols), (3, 1): db_pts, (3, 2): dc_pts,
    (4, 0): flatten(fa_cols), (4, 1): fb_pts, (4, 2): fc_pts, (4, 3): fd_pts,
}
hists = [(hist_a_edges, hist_a_counts), (hist_b_edges, hist_b_counts), (hist_c_edges, hist_c_counts),
         (hist_d_edges, hist_d_counts), (hist_f_edges, hist_f_counts)]


def fmt(v):
    return f"{v:.1f}" if isinstance(v, float) else str(v)


fig = plt.figure(figsize=(16, 12.8), dpi=100)
W, H = 1600, 1280
for i in range(5):
    for j in range(5):
        left = 91 + 301.3 * j
        top = 36 + 236.5 * i
        ax = fig.add_axes([left / W, 1 - (top + 207) / H, 271 / W, 207 / H])
        for s in ax.spines.values():
            s.set_color(FRAME)
            s.set_linewidth(1.4)
        ax.tick_params(length=6.5, width=1.3, color=FRAME, labelcolor=TICKTXT, labelsize=7.5)
        ax.tick_params(axis='x', pad=16)
        ax.tick_params(axis='y', pad=8.5, labelrotation=90)
        ax.set_xticks([])
        ax.set_yticks([])

        if i == j:
            edges, counts = hists[i]
            ax.bar(edges[:-1], counts, width=np.diff(edges), align='edge',
                   color=FILL, edgecolor=EDGE, linewidth=1.5)
            m = max(counts)
            ax.set_ylim(-0.06 * m, 1.612 * m)
            ax.set_xlim(f_hist_xlim if i == 4 else lims[i])
            ax.text(0.5, 0.792, titles[i], transform=ax.transAxes, ha='center', va='center',
                    fontsize=10, fontweight='bold', color='#222222', linespacing=1.25)
            if i == 0:
                ax.set_ylim(-9.5, 261.8)
                ax.set_yticks(hist_count_ticks)
        elif i > j:
            x, y, n = np.array(scatter[(i, j)]).T
            n = n.astype(int)
            ax.scatter(np.repeat(x, n), np.repeat(y, n), s=9, color=DOT, alpha=0.42, linewidths=0)
            ax.set_xlim(lims[j])
            ax.set_ylim(lims[i])
        else:
            ax.text(0.5, 0.585, f"{cors[(i, j)]:.2f}***", transform=ax.transAxes, ha='center', va='center',
                    fontsize=16, fontweight='bold', color='#1c1c28')
            ax.text(0.5, 0.315, f"n={n_obs}", transform=ax.transAxes, ha='center', va='center',
                    fontsize=9.5, color='#555a66')

        if j == 0 and i > 0:
            ax.set_yticks(ticks[i])
            ax.set_yticklabels([fmt(v) for v in ticks[i]], va='center')
        if i == 0 and j == 0:
            ax.set_yticklabels([str(v) for v in hist_count_ticks], va='center')
        if i == 4:
            ax.set_xticks(ticks[j])
            ax.set_xticklabels([fmt(v) for v in ticks[j]])

fig.savefig('out.png', dpi=100)
